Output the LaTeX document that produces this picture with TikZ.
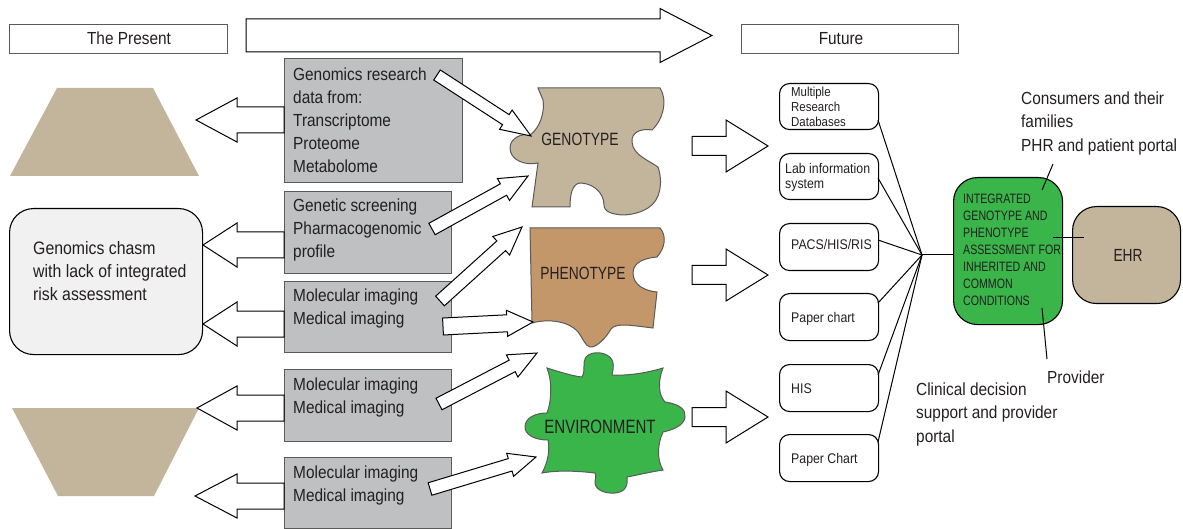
\documentclass[tikz,border=0pt]{standalone}
\usepackage{fontspec}
\setmainfont[FakeStretch=0.88]{Liberation Sans}
\newfontfamily\condfont[FakeStretch=0.78]{Liberation Sans}
\usetikzlibrary{calc}
\definecolor{tanfill}{RGB}{195,181,155}
\definecolor{phenofill}{RGB}{196,151,106}
\definecolor{envgreen}{RGB}{57,181,74}
\definecolor{boxgray}{RGB}{191,192,194}
\definecolor{chasmfill}{RGB}{241,241,242}
\definecolor{ink}{RGB}{35,31,32}
\definecolor{edgegray}{RGB}{90,90,90}
\newcommand{\fatarr}[5]{%
  \coordinate (fah) at ($(#2)!#5!(#1)$);
  \draw[fatarrow] ($(#1)!#3!90:(#2)$) -- ($(fah)!#3!90:(#2)$) -- ($(fah)!#4!90:(#2)$) -- (#2)
    -- ($(fah)!#4!-90:(#2)$) -- ($(fah)!#3!-90:(#2)$) -- ($(#1)!#3!-90:(#2)$) -- cycle;}
\begin{document}
\begin{tikzpicture}[x=1pt,y=-1pt,
  fatarrow/.style={draw=black,fill=white,line width=1pt,line join=miter},
  labelbox/.style={draw=edgegray,fill=white,line width=1.2pt,anchor=north west,inner sep=0},
  graybox/.style={draw=edgegray,fill=boxgray,line width=1.2pt,anchor=north west,inner sep=0},
  colbox/.style={draw=black,fill=white,line width=1.1pt,rounded corners=10pt,anchor=north west,inner sep=0,minimum width=99},
  bigbox/.style={draw=black,line width=1.1pt,rounded corners=24pt,anchor=north west,inner sep=0},
  puzzle/.style={draw=edgegray,line width=1pt},
  txt/.style={inner sep=0,text=ink,align=left,font=\fontsize{17.5}{23}\selectfont},
  smalltxt/.style={inner sep=0,text=ink,align=left,font=\fontsize{14}{15}\selectfont},
  captxt/.style={inner sep=0,text=ink},
  link/.style={draw=black,line width=1pt}]
\useasboundingbox (0,0) rectangle (1183,529);

% header
\node[labelbox,minimum width=218,minimum height=29] (present) at (9,24) {};
\node[txt,anchor=center] (presentt) at (129,38.5) {The Present};
\node[labelbox,minimum width=217,minimum height=29] (future) at (741,24) {};
\node[txt,anchor=center] (futuret) at (841,38.5) {Future};
\coordinate (tops) at (246,35.5);
\coordinate (tope) at (712,35.5);
\fatarr{tops}{tope}{16.5pt}{27pt}{52pt}

% left shapes
\path[fill=tanfill] (57,88) -- (153,88) -- (199,176) -- (10,176) -- cycle;
\path[fill=tanfill] (12,408) -- (199,408) -- (154,496) -- (58,496) -- cycle;
\node[bigbox,fill=chasmfill,minimum width=193,minimum height=146] (chasm) at (9,208) {};
\node[txt,anchor=north west,font=\fontsize{18}{23}\selectfont] (chasmt) at (33,241.5) {Genomics chasm\\with lack of integrated\\risk assessment};

% gray boxes
\node[graybox,minimum width=178,minimum height=124] (g1) at (284,58) {};
\node[txt,anchor=north west] (g1t) at (293,67.5) {Genomics research\\data from:\\Transcriptome\\Proteome\\Metabolome};
\node[graybox,minimum width=167,minimum height=82] (g2) at (284,191) {};
\node[txt,anchor=north west] (g2t) at (293,198.5) {Genetic screening\\Pharmacogenomic\\profile};
\node[graybox,minimum width=167,minimum height=71] (g3) at (284,281) {};
\node[txt,anchor=north west] (g3t) at (293,288.5) {Molecular imaging\\Medical imaging};
\node[graybox,minimum width=167,minimum height=72] (g4) at (284,369) {};
\node[txt,anchor=north west] (g4t) at (293,377.5) {Molecular imaging\\Medical imaging};
\node[graybox,minimum width=167,minimum height=71] (g5) at (284,457) {};
\node[txt,anchor=north west] (g5t) at (293,465.5) {Molecular imaging\\Medical imaging};

% left arrows
\coordinate (l1s) at (284,120); \coordinate (l1e) at (196,120);
\coordinate (l2s) at (284,245); \coordinate (l2e) at (203,245);
\coordinate (l3s) at (284,324); \coordinate (l3e) at (203,324);
\coordinate (l4s) at (284,408); \coordinate (l4e) at (197,408);
\coordinate (l5s) at (284,496); \coordinate (l5e) at (195,496);
\fatarr{l1s}{l1e}{13pt}{22pt}{41pt}
\fatarr{l2s}{l2e}{13pt}{22pt}{34pt}
\fatarr{l3s}{l3e}{13pt}{22pt}{34pt}
\fatarr{l4s}{l4e}{13pt}{22pt}{40pt}
\fatarr{l5s}{l5e}{13pt}{22pt}{42pt}

% puzzle pieces
\draw[puzzle,fill=tanfill] (538,88) -- (660,88)
 .. controls (668,100) and (663,120) .. (652,130)
 .. controls (640,128) and (631,133) .. (632,142)
 .. controls (633,155) and (648,160) .. (658,167)
 .. controls (663,182) and (661,200) .. (648,208)
 .. controls (640,213) and (630,215) .. (622,215)
 .. controls (612,214) and (604,212) .. (604,205)
 .. controls (604,192) and (592,183) .. (580,183)
 .. controls (572,184) and (570,195) .. (570,207)
 -- (532,207) -- (538,163)
 .. controls (525,166) and (510,160) .. (510,148)
 .. controls (510,138) and (522,133) .. (530,135)
 .. controls (540,128) and (545,112) .. (543,100)
 -- cycle;
\node[captxt,font=\condfont\fontsize{17.8}{20}\selectfont] (geno) at (580,139) {GENOTYPE};

\draw[puzzle,fill=phenofill] (530,228) -- (660,228)
 .. controls (667,236) and (665,248) .. (657,257)
 .. controls (645,258) and (633,262) .. (633,273)
 .. controls (633,285) and (645,291) .. (657,292)
 -- (653,328)
 .. controls (635,326) and (616,322) .. (611,329)
 .. controls (606,338) and (596,348) .. (590,347)
 .. controls (585,346) and (583,338) .. (578,332)
 .. controls (570,322) and (550,318) .. (532,323)
 -- cycle;
\node[captxt,font=\condfont\fontsize{17.7}{20}\selectfont] (pheno) at (583,273) {PHENOTYPE};

\draw[puzzle,fill=envgreen] (547,368)
 .. controls (560,372) and (572,376) .. (582,377)
 .. controls (586,370) and (582,362) .. (586,357)
 .. controls (592,350) and (608,352) .. (612,360)
 .. controls (615,367) and (612,372) .. (612,375)
 .. controls (630,376) and (650,372) .. (663,368)
 .. controls (658,380) and (658,395) .. (665,402)
 .. controls (680,404) and (686,410) .. (685,417)
 .. controls (684,426) and (672,430) .. (663,432)
 .. controls (657,445) and (657,460) .. (663,470)
 .. controls (650,472) and (638,475) .. (627,477)
 .. controls (628,485) and (626,492) .. (615,493)
 .. controls (602,494) and (594,488) .. (595,481)
 .. controls (596,477) and (596,475) .. (595,473)
 .. controls (578,471) and (558,470) .. (542,473)
 .. controls (548,462) and (550,450) .. (548,440)
 .. controls (535,440) and (525,435) .. (525,427)
 .. controls (525,418) and (535,413) .. (547,413)
 .. controls (552,400) and (552,380) .. (547,368)
 -- cycle;
\node[captxt,font=\condfont\fontsize{19.3}{20}\selectfont] (env) at (600,427) {ENVIRONMENT};

% arrows into puzzle pieces
\coordinate (r1s) at (437,75);  \coordinate (r1e) at (531,136);
\coordinate (r2s) at (432,229); \coordinate (r2e) at (528,176);
\coordinate (r3s) at (440,301); \coordinate (r3e) at (522,227);
\coordinate (r4s) at (443,326.5); \coordinate (r4e) at (533,322);
\coordinate (r5s) at (439,404); \coordinate (r5e) at (537,353);
\coordinate (r6s) at (430,489); \coordinate (r6e) at (536,457);
\fatarr{r1s}{r1e}{6pt}{11.5pt}{30pt}
\fatarr{r2s}{r2e}{6.5pt}{12.5pt}{28pt}
\fatarr{r3s}{r3e}{6.5pt}{12.5pt}{28pt}
\fatarr{r4s}{r4e}{8.5pt}{13pt}{26pt}
\fatarr{r5s}{r5e}{6.5pt}{12.5pt}{28pt}
\fatarr{r6s}{r6e}{6.5pt}{12pt}{27pt}

% arrows to the right column
\coordinate (m1s) at (692,146); \coordinate (m1e) at (768,146);
\coordinate (m2s) at (692,275); \coordinate (m2e) at (768,275);
\coordinate (m3s) at (692,417); \coordinate (m3e) at (768,417);
\fatarr{m1s}{m1e}{9.5pt}{26pt}{42pt}
\fatarr{m2s}{m2e}{9.5pt}{26pt}{42pt}
\fatarr{m3s}{m3e}{9.5pt}{26pt}{42pt}

% right column
\node[colbox,minimum height=46] (dbA) at (779,83) {};
\node[smalltxt,anchor=north west,font=\fontsize{13}{15}\selectfont] (dbAt) at (791,87) {Multiple\\Research\\Databases};
\node[colbox,minimum height=46] (dbB) at (779,153) {};
\node[smalltxt,anchor=north west] (dbBt) at (785,163.5) {Lab information\\system};
\node[colbox,minimum height=47] (dbC) at (779,223) {};
\node[smalltxt,anchor=base west] (dbCt) at (791,250) {PACS/HIS/RIS};
\node[colbox,minimum height=47] (dbD) at (779,293) {};
\node[smalltxt,anchor=base west] (dbDt) at (791,323) {Paper chart};
\node[colbox,minimum height=47] (dbE) at (779,364) {};
\node[smalltxt,anchor=base west] (dbEt) at (791,393) {HIS};
\node[colbox,minimum height=47] (dbF) at (779,434) {};
\node[smalltxt,anchor=base west] (dbFt) at (791,463) {Paper Chart};

\coordinate (hub) at (922,255);
\coordinate (pA) at (878,120);
\coordinate (pB) at (878,178);
\coordinate (pC) at (878,240);
\coordinate (pD) at (878,303);
\coordinate (pE) at (878,375);
\coordinate (pF) at (878,442);
\foreach \p in {pA,pB,pC,pD,pE,pF} \draw[link] (\p) -- (hub);

\node[bigbox,fill=envgreen,minimum width=109,minimum height=147] (integ) at (953,177) {};
\node[captxt,anchor=north west,align=left,font=\condfont\fontsize{13.6}{17}\selectfont] (integt) at (963,193.5) {INTEGRATED\\GENOTYPE AND\\PHENOTYPE\\ASSESSMENT FOR\\INHERITED AND\\COMMON\\CONDITIONS};
\draw[link] (hub) -- (integ.west |- hub);

\node[bigbox,fill=tanfill,minimum width=108,minimum height=97] (ehr) at (1072,206) {};
\node[captxt,font=\condfont\fontsize{17.6}{20}\selectfont] (ehrt) at (1128,255) {EHR};
\coordinate (ehrl1) at (1053,238);
\coordinate (ehrl2) at (1084,238);
\draw[link] (ehrl1) -- (ehrl2);

\node[txt,anchor=north west,font=\fontsize{17.5}{23.5}\selectfont] (cons) at (1021,91.5) {Consumers and their\\families\\PHR and patient portal};
\coordinate (c1) at (1053,164); \coordinate (c2) at (1042,190);
\draw[link] (c1) -- (c2);
\node[txt,anchor=west] (prov) at (1047,377) {Provider};
\coordinate (v1) at (1042,308); \coordinate (v2) at (1047,359);
\draw[link] (v1) -- (v2);
\node[txt,anchor=north west,font=\fontsize{17.5}{23.5}\selectfont] (clin) at (916,382.5) {Clinical decision\\support and provider\\portal};
\end{tikzpicture}
\end{document}
